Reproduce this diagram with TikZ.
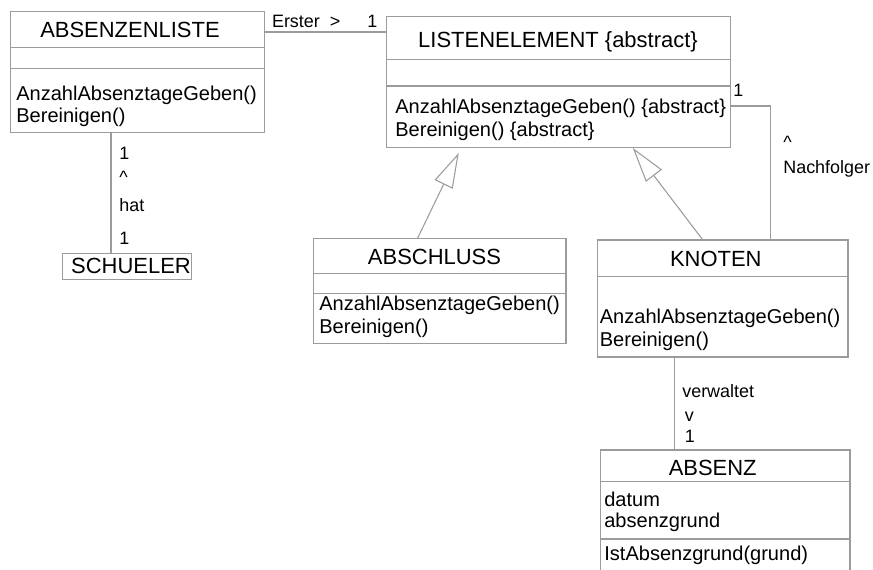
\documentclass[tikz,border=0pt]{standalone}
\usepackage{fontspec}
\setmainfont{Liberation Sans}
\usetikzlibrary{arrows.meta}
\definecolor{umlgrau}{RGB}{155,155,155}

\begin{document}
\begin{tikzpicture}[x=0.02cm,y=-0.02cm,
    klasse/.style={draw=umlgrau,line width=0.6pt,inner sep=0pt},
    trenn/.style={umlgrau,line width=0.6pt},
    verb/.style={umlgrau,line width=0.6pt},
    erbt/.style={verb,-{Triangle[open,length=0.7cm,width=0.4cm]}},
    titel/.style={inner sep=0pt,font=\fontsize{12.5}{14}\selectfont},
    eintrag/.style={anchor=west,inner sep=0pt,font=\fontsize{11.4}{13}\selectfont},
    rolle/.style={anchor=west,inner sep=0pt,font=\fontsize{10.2}{12}\selectfont}]
	  \useasboundingbox (0,0) rectangle (873,569);
	  \clip (0,0) rectangle (873,569);
	  % Klassen
	  \node[klasse,minimum width=5.072cm,minimum height=2.412cm] (liste) at (137.5,72) {};
	  \node[klasse,minimum width=2.588cm,minimum height=0.52cm] (schueler) at (127,266.3) {};
	  \node[klasse,minimum width=6.9cm,minimum height=2.626cm] (element) at (558.5,81.7) {};
	  \node[klasse,minimum width=5.06cm,minimum height=2.09cm] (abschluss) at (439.5,291.2) {};
	  \node[klasse,minimum width=5.02cm,minimum height=2.34cm] (knoten) at (722.5,298.5) {};
	  \node[klasse,minimum width=5cm,minimum height=3cm] (absenz) at (725,525) {};
	  \draw[trenn] (10.7,47.3) -- (264.3,47.3);
	  \draw[trenn] (10.7,68.3) -- (264.3,68.3);
	  \draw[trenn] (386,59.3) -- (731,59.3);
	  \draw[trenn] (386,86) -- (731,86);
	  \draw[trenn] (313,273.3) -- (566,273.3);
	  \draw[trenn] (313,293.3) -- (566,293.3);
	  \draw[trenn] (597,276.7) -- (848,276.7);
	  \draw[trenn] (600,481.7) -- (850,481.7);
	  \draw[trenn] (600,539) -- (850,539);
	  % Texte
	  \node[titel] (listeName) at (130,30) {ABSENZENLISTE};
	  \node[eintrag] (listeM1) at (16,95) {AnzahlAbsenztageGeben()};
	  \node[eintrag] (listeM2) at (16,117.3) {Bereinigen()};
	  \node[titel] (schuelerName) at (131,266.3) {SCHUELER};
	  \node[titel] (elementName) at (558,41.7) {LISTENELEMENT \{abstract\}};
	  \node[eintrag] (elementM1) at (395,108.3) {AnzahlAbsenztageGeben() \{abstract\}};
	  \node[eintrag] (elementM2) at (395,131.7) {Bereinigen() \{abstract\}};
	  \node[titel] (abschlussName) at (434.5,256.7) {ABSCHLUSS};
	  \node[eintrag] (abschlussM1) at (319,305) {AnzahlAbsenztageGeben()};
	  \node[eintrag] (abschlussM2) at (319,328.3) {Bereinigen()};
	  \node[titel] (knotenName) at (715.8,259.3) {KNOTEN};
	  \node[eintrag] (knotenM1) at (599.5,318.3) {AnzahlAbsenztageGeben()};
	  \node[eintrag] (knotenM2) at (599.5,341.7) {Bereinigen()};
	  \node[titel] (absenzName) at (712.7,467.7) {ABSENZ};
	  \node[eintrag] (absenzA1) at (604,499.3) {datum};
	  \node[eintrag] (absenzA2) at (604,522.7) {absenzgrund};
	  \node[eintrag] (absenzM1) at (604,555) {IstAbsenzgrund(grund)};
	  % Beziehungen
	  \draw[verb] ([yshift=-0.416cm]liste.north east) coordinate (a1) -- (a1 -| element.west);
	  \draw[verb] ([xshift=2.016cm]liste.south west) coordinate (h1) -- (h1 |- schueler.north);
	  \draw[verb] ([yshift=-1.81cm]element.north east) -- ++(39,0) coordinate (n1) -- (n1 |- knoten.north);
	  \draw[verb] ([xshift=1.56cm]knoten.south west) coordinate (v1) -- (v1 |- absenz.north);
	  \draw[erbt] ([xshift=2.1cm]abschluss.north west) -- ([xshift=1.466cm,yshift=-0.1cm]element.south west);
	  \draw[erbt] ([xshift=2.12cm]knoten.north west) -- ([xshift=4.946cm]element.south west);
	  % Rollen
	  \node[rolle] (erster) at (271.7,21.7) {Erster\ \ >};
	  \node[rolle] (ersterMult) at (367,21.7) {1};
	  \node[rolle] (hatMult1) at (119,153) {1};
	  \node[rolle] (hatPfeil) at (119,177) {\textasciicircum};
	  \node[rolle] (hat) at (119,205) {hat};
	  \node[rolle] (hatMult2) at (119,238) {1};
	  \node[rolle] (nachMult) at (733,90) {1};
	  \node[rolle] (nachPfeil) at (783,142) {\textasciicircum};
	  \node[rolle] (nachfolger) at (783,169) {Nachfolger};
	  \node[rolle] (verwaltet) at (682,390.7) {verwaltet};
	  \node[rolle] (verwPfeil) at (684.5,417) {v};
	  \node[rolle] (verwMult) at (684.5,436.7) {1};
	\end{tikzpicture}
\end{document}
